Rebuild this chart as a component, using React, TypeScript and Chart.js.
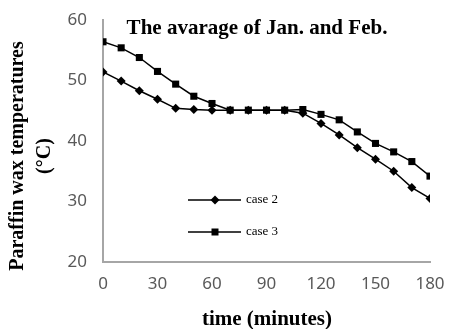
import React, { useEffect, useRef } from "react";
import { Chart, registerables } from "chart.js";

Chart.register(...registerables);

const minutes = [0, 10, 20, 30, 40, 50, 60, 70, 80, 90, 100, 110, 120, 130, 140, 150, 160, 170, 180];
const case2 = [51.4, 49.9, 48.3, 46.9, 45.4, 45.2, 45.1, 45.1, 45.1, 45.1, 45.1, 44.6, 42.9, 41.0, 38.9, 37.0, 35.0, 32.3, 30.5];
const case3 = [56.4, 55.4, 53.8, 51.5, 49.4, 47.4, 46.2, 45.1, 45.1, 45.1, 45.1, 45.2, 44.4, 43.5, 41.5, 39.6, 38.2, 36.6, 34.2];
const seriesNames = ["case 2", "case 3"];
const chartTitle = "The avarage of Jan. and Feb.";
const yTitleLines = ["Paraffin wax temperatures", "(°C)"];
const xTitle = "time (minutes)";

const SERIF = '"Liberation Serif", "Times New Roman", serif';

const overlayPlugin = {
  id: "overlay",
  afterDraw(chart: any) {
    const ctx = chart.ctx;
    const area = chart.chartArea;
    ctx.save();
    ctx.fillStyle = "#000";
    // title
    ctx.font = "bold 21px " + SERIF;
    ctx.textAlign = "center";
    ctx.textBaseline = "alphabetic";
    ctx.fillText(chartTitle, 257, 34);
    // x title
    ctx.font = "bold 21px " + SERIF;
    ctx.fillText(xTitle, 267, 325);
    // y title
    ctx.save();
    ctx.translate(18, 156);
    ctx.rotate(-Math.PI / 2);
    ctx.font = "bold 20px " + SERIF;
    ctx.textBaseline = "middle";
    ctx.fillText(yTitleLines[0], 0, 0);
    ctx.fillText(yTitleLines[1], 0, 27);
    ctx.restore();
    // legend
    const items = [
      { y: 200, style: "diamond" },
      { y: 232, style: "square" },
    ];
    items.forEach((it, i) => {
      ctx.strokeStyle = "#000";
      ctx.lineWidth = 1.5;
      ctx.beginPath();
      ctx.moveTo(area.left + 85, it.y);
      ctx.lineTo(area.left + 138, it.y);
      ctx.stroke();
      const cx = area.left + 112;
      ctx.beginPath();
      if (it.style === "diamond") {
        const r = 4.5;
        ctx.moveTo(cx, it.y - r);
        ctx.lineTo(cx + r, it.y);
        ctx.lineTo(cx, it.y + r);
        ctx.lineTo(cx - r, it.y);
        ctx.closePath();
      } else {
        ctx.rect(cx - 3.5, it.y - 3.5, 7, 7);
      }
      ctx.fill();
      ctx.font = "13px " + SERIF;
      ctx.textAlign = "left";
      ctx.textBaseline = "middle";
      ctx.fillText(seriesNames[i], area.left + 143, it.y);
    });
    ctx.restore();
  },
};

export default function App() {
  const ref = useRef<HTMLCanvasElement | null>(null);
  useEffect(() => {
    if (!ref.current) return;
    const chart = new Chart(ref.current, {
      type: "line",
      data: {
        datasets: [
          {
            label: seriesNames[0],
            data: minutes.map((m, i) => ({ x: m, y: case2[i] })),
            borderColor: "#000",
            backgroundColor: "#000",
            borderWidth: 1.5,
            pointStyle: "rectRot",
            pointRadius: 4.5,
            pointBorderWidth: 0,
            tension: 0,
          },
          {
            label: seriesNames[1],
            data: minutes.map((m, i) => ({ x: m, y: case3[i] })),
            borderColor: "#000",
            backgroundColor: "#000",
            borderWidth: 1.5,
            pointStyle: "rect",
            pointRadius: 5,
            pointBorderWidth: 0,
            tension: 0,
          },
        ],
      },
      options: {
        responsive: false,
        animation: false,
        devicePixelRatio: 1,
        layout: { padding: { top: 20, right: 19, left: 0, bottom: 0 } },
        plugins: {
          legend: { display: false },
          title: { display: false },
          tooltip: { enabled: false },
        },
        scales: {
          x: {
            type: "linear",
            min: 0,
            max: 180,
            grid: { display: false, drawTicks: false },
            border: { display: true, color: "#a6a6a6", width: 2 },
            ticks: {
              stepSize: 30,
              padding: 12,
              color: "#595959",
              font: { family: '"Noto Sans", sans-serif', size: 17 },
            },
            afterFit: (s: any) => {
              s.height = 67;
              s.paddingLeft = 0;
              s.paddingRight = 0;
            },
          },
          y: {
            min: 20,
            max: 60,
            grid: { display: false, drawTicks: false },
            border: { display: true, color: "#a6a6a6", width: 2 },
            ticks: {
              stepSize: 10,
              padding: 16,
              color: "#595959",
              font: { family: '"Noto Sans", sans-serif', size: 17 },
            },
            afterFit: (s: any) => {
              s.width = 103;
              s.paddingTop = 0;
              s.paddingBottom = 0;
            },
          },
        },
      },
      plugins: [overlayPlugin],
    });
    return () => chart.destroy();
  }, []);
  return (
    <div style={{ position: "absolute", left: 0, top: 0, width: 449, height: 329, background: "#fff" }}>
      <canvas ref={ref} width={449} height={329} />
    </div>
  );
}
